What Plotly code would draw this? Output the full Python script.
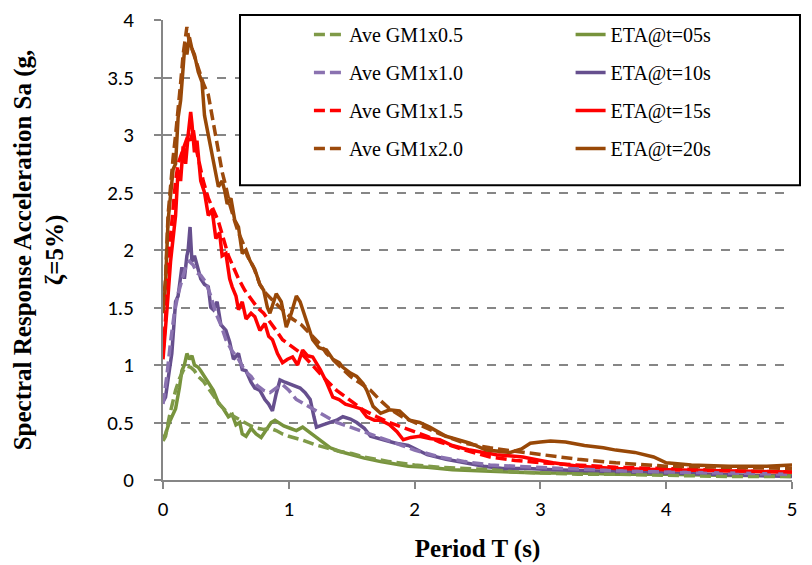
import plotly.graph_objects as go

# ---------------- data ----------------
gm05_T = [0, 0.02, 0.05, 0.08, 0.1, 0.13, 0.16, 0.19, 0.22, 0.25, 0.28, 0.32, 0.36, 0.4, 0.45, 0.5, 0.55, 0.6, 0.65, 0.7, 0.75, 0.8, 0.85, 0.9, 0.95, 1.0, 1.1, 1.2, 1.3, 1.4, 1.5, 1.6, 1.8, 2.0, 2.2, 2.4, 2.6, 2.8, 3.0, 3.3, 3.6, 4.0, 4.5, 5.0]
gm05_Sa = [0.34, 0.38, 0.55, 0.7, 0.78, 0.88, 0.95, 0.99, 0.98, 0.95, 0.9, 0.86, 0.8, 0.73, 0.66, 0.6, 0.56, 0.53, 0.5, 0.47, 0.45, 0.44, 0.45, 0.43, 0.4, 0.38, 0.35, 0.31, 0.28, 0.25, 0.23, 0.2, 0.16, 0.13, 0.11, 0.1, 0.09, 0.07, 0.06, 0.05, 0.05, 0.04, 0.03, 0.03]

eta05_T = [0, 0.02, 0.05, 0.08, 0.1, 0.13, 0.15, 0.17, 0.19, 0.21, 0.23, 0.25, 0.28, 0.3, 0.33, 0.36, 0.4, 0.44, 0.48, 0.52, 0.55, 0.58, 0.61, 0.63, 0.66, 0.7, 0.74, 0.78, 0.82, 0.86, 0.89, 0.92, 0.96, 1.01, 1.06, 1.11, 1.16, 1.22, 1.28, 1.33, 1.4, 1.5, 1.6, 1.73, 1.85, 1.95, 2.1, 2.3, 2.5, 2.7, 3.0, 3.3, 3.6, 4.0, 4.5, 5.0]
eta05_Sa = [0.36, 0.4, 0.5, 0.58, 0.62, 0.8, 0.95, 1.0, 1.1, 1.05, 1.08, 1.0, 0.98, 0.95, 0.9, 0.85, 0.78, 0.67, 0.62, 0.55, 0.57, 0.48, 0.5, 0.4, 0.38, 0.45, 0.4, 0.37, 0.43, 0.5, 0.52, 0.5, 0.47, 0.45, 0.43, 0.46, 0.42, 0.37, 0.32, 0.28, 0.25, 0.22, 0.19, 0.16, 0.14, 0.12, 0.11, 0.09, 0.08, 0.07, 0.06, 0.06, 0.05, 0.05, 0.04, 0.04]

gm10_T = [0, 0.03, 0.06, 0.09, 0.12, 0.15, 0.18, 0.21, 0.24, 0.27, 0.3, 0.34, 0.38, 0.42, 0.46, 0.5, 0.55, 0.6, 0.65, 0.7, 0.75, 0.8, 0.85, 0.9, 0.95, 1.0, 1.06, 1.14, 1.22, 1.3, 1.38, 1.49, 1.6, 1.7, 1.8, 1.9, 2.0, 2.2, 2.4, 2.6, 2.8, 3.0, 3.3, 3.6, 4.0, 4.5, 5.0]
gm10_Sa = [0.66, 0.9, 1.2, 1.45, 1.62, 1.75, 1.85, 1.9, 1.87, 1.8, 1.78, 1.72, 1.6, 1.45, 1.35, 1.22, 1.12, 1.05, 0.95, 0.9, 0.82, 0.78, 0.76, 0.8, 0.83, 0.78, 0.7, 0.65, 0.6, 0.55, 0.5, 0.46, 0.42, 0.38, 0.34, 0.3, 0.26, 0.2, 0.16, 0.13, 0.12, 0.11, 0.09, 0.08, 0.07, 0.06, 0.05]

eta10_T = [0, 0.02, 0.05, 0.07, 0.1, 0.12, 0.15, 0.17, 0.19, 0.2, 0.215, 0.23, 0.25, 0.28, 0.3, 0.33, 0.36, 0.38, 0.4, 0.43, 0.46, 0.5, 0.53, 0.56, 0.6, 0.63, 0.66, 0.7, 0.73, 0.77, 0.81, 0.84, 0.87, 0.9, 0.93, 0.97, 1.02, 1.06, 1.09, 1.13, 1.17, 1.2, 1.22, 1.27, 1.33, 1.38, 1.43, 1.49, 1.54, 1.6, 1.65, 1.75, 1.85, 1.95, 2.1, 2.25, 2.4, 2.55, 2.7, 2.9, 3.1, 3.4, 3.7, 4.0, 4.5, 5.0]
eta10_Sa = [0.68, 0.72, 0.95, 1.1, 1.55, 1.6, 1.85, 1.75, 1.95, 2.0, 2.2, 1.9, 1.95, 1.83, 1.75, 1.7, 1.68, 1.5, 1.48, 1.55, 1.35, 1.3, 1.2, 1.05, 1.1, 0.96, 0.95, 0.85, 0.8, 0.78, 0.7, 0.66, 0.6, 0.75, 0.87, 0.85, 0.83, 0.82, 0.8, 0.76, 0.7, 0.55, 0.46, 0.48, 0.5, 0.52, 0.55, 0.53, 0.5, 0.45, 0.38, 0.35, 0.32, 0.3, 0.22, 0.18, 0.15, 0.12, 0.1, 0.1, 0.09, 0.08, 0.07, 0.06, 0.04, 0.03]

gm15_T = [0, 0.02, 0.05, 0.08, 0.1, 0.12, 0.15, 0.18, 0.2, 0.22, 0.24, 0.26, 0.29, 0.32, 0.36, 0.4, 0.44, 0.48, 0.52, 0.56, 0.6, 0.65, 0.7, 0.75, 0.8, 0.85, 0.9, 0.95, 1.0, 1.05, 1.1, 1.17, 1.27, 1.38, 1.48, 1.59, 1.7, 1.8, 1.9, 2.0, 2.1, 2.2, 2.4, 2.6, 2.8, 3.0, 3.3, 3.6, 4.0, 4.5, 5.0]
gm15_Sa = [1.1, 1.4, 2.0, 2.4, 2.6, 2.75, 2.85, 2.95, 3.0, 2.95, 3.05, 2.9, 2.75, 2.6, 2.45, 2.35, 2.25, 2.1, 1.95, 1.85, 1.75, 1.65, 1.58, 1.5, 1.45, 1.38, 1.3, 1.22, 1.18, 1.14, 1.1, 1.02, 0.9, 0.78, 0.7, 0.61, 0.55, 0.5, 0.46, 0.42, 0.38, 0.33, 0.26, 0.2, 0.17, 0.15, 0.13, 0.11, 0.1, 0.08, 0.07]

eta15_T = [0, 0.02, 0.04, 0.06, 0.08, 0.1, 0.12, 0.14, 0.16, 0.18, 0.2, 0.22, 0.23, 0.25, 0.27, 0.3, 0.33, 0.36, 0.39, 0.42, 0.45, 0.47, 0.5, 0.53, 0.55, 0.58, 0.6, 0.63, 0.66, 0.7, 0.73, 0.77, 0.81, 0.84, 0.87, 0.91, 0.95, 0.99, 1.03, 1.07, 1.11, 1.15, 1.19, 1.25, 1.3, 1.35, 1.4, 1.45, 1.51, 1.57, 1.62, 1.68, 1.73, 1.8, 1.86, 1.91, 1.97, 2.04, 2.12, 2.2, 2.3, 2.44, 2.55, 2.65, 2.75, 2.86, 3.0, 3.1, 3.3, 3.6, 4.0, 4.5, 5.0]
eta15_Sa = [1.05, 1.3, 1.6, 1.9, 2.1, 2.3, 2.7, 2.6, 2.9, 2.75, 3.0, 3.2, 3.1, 2.85, 2.95, 2.6, 2.5, 2.3, 2.35, 2.1, 2.15, 1.95, 1.97, 1.75, 1.68, 1.6, 1.48, 1.55, 1.4, 1.45, 1.42, 1.3, 1.36, 1.25, 1.22, 1.1, 1.02, 1.05, 1.07, 1.0, 1.13, 1.08, 1.07, 0.96, 0.85, 0.72, 0.7, 0.66, 0.64, 0.62, 0.55, 0.52, 0.52, 0.48, 0.42, 0.35, 0.37, 0.38, 0.36, 0.35, 0.3, 0.26, 0.24, 0.22, 0.21, 0.2, 0.17, 0.15, 0.12, 0.1, 0.09, 0.08, 0.07]

gm20_T = [0, 0.02, 0.04, 0.06, 0.08, 0.1, 0.12, 0.14, 0.16, 0.18, 0.19, 0.21, 0.23, 0.26, 0.29, 0.32, 0.36, 0.39, 0.42, 0.44, 0.47, 0.5, 0.53, 0.57, 0.6, 0.64, 0.67, 0.72, 0.77, 0.82, 0.88, 0.93, 0.98, 1.03, 1.1, 1.19, 1.25, 1.3, 1.4, 1.49, 1.57, 1.65, 1.72, 1.8, 1.9, 2.0, 2.1, 2.2, 2.4, 2.6, 2.8, 3.0, 3.13, 3.3, 3.6, 4.0, 4.5, 5.0]
gm20_Sa = [1.5, 1.75, 2.3, 2.6, 2.8, 3.0, 3.2, 3.45, 3.7, 3.85, 3.94, 3.8, 3.75, 3.65, 3.55, 3.45, 3.35, 3.17, 3.0, 2.89, 2.68, 2.55, 2.4, 2.25, 2.15, 2.05, 1.95, 1.85, 1.7, 1.62, 1.55, 1.5, 1.45, 1.4, 1.35, 1.25, 1.18, 1.1, 1.0, 0.9, 0.84, 0.78, 0.7, 0.62, 0.55, 0.5, 0.45, 0.4, 0.32, 0.28, 0.25, 0.22, 0.2, 0.18, 0.15, 0.12, 0.11, 0.1]

eta20_T = [0, 0.02, 0.04, 0.06, 0.08, 0.1, 0.12, 0.14, 0.16, 0.175, 0.19, 0.21, 0.23, 0.25, 0.28, 0.31, 0.33, 0.36, 0.38, 0.41, 0.44, 0.47, 0.49, 0.51, 0.54, 0.57, 0.6, 0.63, 0.66, 0.69, 0.73, 0.77, 0.8, 0.83, 0.85, 0.88, 0.9, 0.94, 0.98, 1.02, 1.06, 1.09, 1.11, 1.15, 1.19, 1.24, 1.3, 1.35, 1.4, 1.43, 1.49, 1.54, 1.59, 1.62, 1.67, 1.73, 1.8, 1.88, 1.96, 2.04, 2.12, 2.25, 2.35, 2.44, 2.57, 2.67, 2.76, 2.85, 2.92, 3.0, 3.08, 3.2, 3.35, 3.5, 3.6, 3.75, 3.9, 4.0, 4.2, 4.5, 4.8, 5.0]
eta20_Sa = [1.45, 1.7, 2.25, 2.5, 2.7, 2.75, 3.15, 3.3, 3.6, 3.8, 3.7, 3.85, 3.75, 3.7, 3.55, 3.46, 3.17, 3.0, 2.89, 2.7, 2.55, 2.6, 2.52, 2.4, 2.45, 2.26, 2.2, 1.97, 2.0, 1.91, 1.83, 1.7, 1.65, 1.5, 1.45, 1.55, 1.62, 1.55, 1.33, 1.45, 1.6, 1.55, 1.48, 1.35, 1.22, 1.15, 1.13, 1.05, 1.02, 0.98, 0.93, 0.9, 0.84, 0.78, 0.64, 0.58, 0.61, 0.6, 0.52, 0.5, 0.46, 0.38, 0.35, 0.32, 0.26, 0.25, 0.24, 0.27, 0.32, 0.33, 0.34, 0.33, 0.3, 0.28, 0.26, 0.24, 0.2, 0.15, 0.13, 0.12, 0.12, 0.13]

dashed_names = ["Ave GM1x0.5", "Ave GM1x1.0", "Ave GM1x1.5", "Ave GM1x2.0"]
solid_names = ["ETA@t=05s", "ETA@t=10s", "ETA@t=15s", "ETA@t=20s"]

dashed_series = [(gm05_T, gm05_Sa), (gm10_T, gm10_Sa), (gm15_T, gm15_Sa), (gm20_T, gm20_Sa)]
solid_series = [(eta05_T, eta05_Sa), (eta10_T, eta10_Sa), (eta15_T, eta15_Sa), (eta20_T, eta20_Sa)]

dashed_colors = ["#7F9A48", "#8A72B0", "#FF0000", "#9C4A0C"]
solid_colors = ["#77933C", "#664F8E", "#FF0000", "#984807"]

# ---------------- figure ----------------
fig = go.Figure()

for i in range(4):
    T, Sa = solid_series[i]
    fig.add_trace(go.Scatter(
        x=T, y=Sa, mode="lines", name=solid_names[i],
        line=dict(color=solid_colors[i], width=3.5),
        legend="legend2", legendgroup="s%d" % i, legendrank=i + 1,
    ))
for i in range(4):
    T, Sa = dashed_series[i]
    fig.add_trace(go.Scatter(
        x=T, y=Sa, mode="lines", name=dashed_names[i],
        line=dict(color=dashed_colors[i], width=3.5, dash="11px,5px"),
        legend="legend", legendgroup="d%d" % i, legendrank=i + 1,
    ))

axis_grey = "#868686"
tick_font = dict(family="Carlito, Lato, Liberation Sans, sans-serif", size=21, color="#000000")
title_font = dict(family="Liberation Serif, Times New Roman, serif", size=25, color="#000000")
legend_font = dict(family="Liberation Serif, Times New Roman, serif", size=20, color="#000000")

fig.update_layout(
    width=812, height=565,
    margin=dict(l=163, r=20, t=20, b=85),
    paper_bgcolor="white", plot_bgcolor="white",
    showlegend=True,
    legend=dict(
        x=0.232, y=1.011, xanchor="left", yanchor="top",
        font=legend_font, bgcolor="rgba(0,0,0,0)", borderwidth=0,
        traceorder="grouped", tracegroupgap=9,
    ),
    legend2=dict(
        x=0.648, y=1.011, xanchor="left", yanchor="top",
        font=legend_font, bgcolor="rgba(0,0,0,0)", borderwidth=0,
        traceorder="grouped", tracegroupgap=9,
    ),
    shapes=[dict(
        type="rect", xref="paper", yref="paper",
        x0=0.1224, x1=1.0127, y0=0.641, y1=1.011,
        line=dict(color="#000000", width=2), fillcolor="white", layer="above",
    )],
)

fig.update_xaxes(
    range=[0, 5], dtick=1, tick0=0, automargin=False,
    showgrid=False, zeroline=False,
    showline=True, linecolor=axis_grey, linewidth=2,
    ticks="outside", ticklen=7, tickwidth=1.5, tickcolor=axis_grey,
    tickfont=tick_font, ticklabelstandoff=2,
    title=dict(text="<b>Period T (s)</b>", font=title_font, standoff=18),
)
fig.update_yaxes(
    range=[0, 4], dtick=0.5, tick0=0, automargin=False,
    showgrid=True, gridcolor=axis_grey, griddash="dash", gridwidth=1.5,
    zeroline=False,
    showline=True, linecolor=axis_grey, linewidth=2,
    ticks="outside", ticklen=7, tickwidth=1.5, tickcolor=axis_grey,
    tickfont=tick_font, ticklabelstandoff=16,
    title=dict(text="<b>Spectral Response Acceleration Sa (g,<br>ζ=5%)</b>", font=title_font, standoff=36),
)

fig.write_html("out.html")
